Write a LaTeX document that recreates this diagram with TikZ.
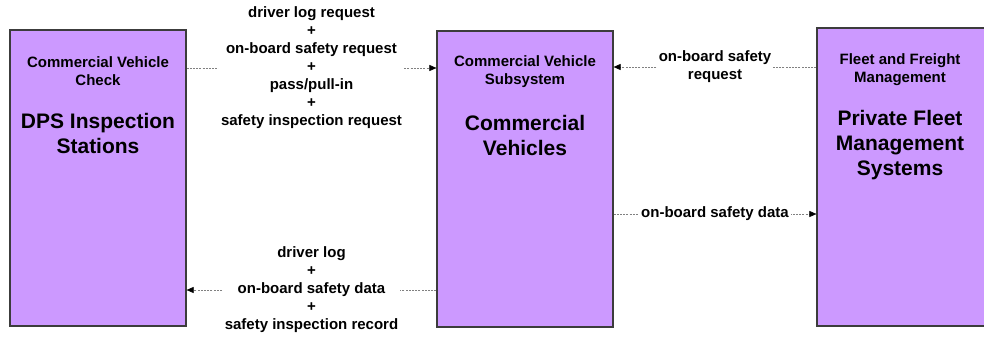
\documentclass[tikz,border=0pt]{standalone}
\usepackage{fontspec}
\setmainfont{Liberation Sans}
\usetikzlibrary{arrows.meta,calc}
\definecolor{boxfill}{RGB}{204,153,255}
\definecolor{boxline}{RGB}{60,60,60}
\tikzset{
  box/.style={draw=boxline, fill=boxfill, line width=1.2pt, inner sep=0pt},
  small/.style={font=\fontsize{15}{18}\selectfont\bfseries, align=center, inner sep=0pt},
  big/.style={font=\fontsize{21}{25}\selectfont\bfseries, align=center, inner sep=0pt},
  flow/.style={draw=gray, line width=0.6pt, dash pattern=on 2pt off 1.2pt,
    -{Triangle[length=7pt,width=6pt,color=black]}},
  lbl/.style={fill=white, inner sep=2pt, font=\fontsize{15}{18}\selectfont\bfseries, align=center},
}
\begin{document}
\begin{tikzpicture}[x=1pt,y=-1pt]
\useasboundingbox (0,0) rectangle (984,337);
% boxes
\node[box, minimum width=176pt, minimum height=296pt] (b1) at (98,178) {};
\node[box, minimum width=176pt, minimum height=296pt] (b2) at (525,179) {};
\node[box, minimum width=172pt, minimum height=298pt] (b3) at (903,177) {};
% box texts
\node[small] (t1) at (98,71) {Commercial Vehicle\\Check};
\node[big] (m1) at (98,133) {DPS Inspection\\Stations};
\node[small] (t2) at (525,72) {Commercial Vehicle\\Subsystem};
\node[big] (m2) at (525,135) {Commercial\\Vehicles};
\node[small] (t3) at (900,70) {Fleet and Freight\\Management};
\node[big] (m3) at (900,145) {Private Fleet\\Management\\Systems};
% flows
\draw[flow] (b1.east |- 0,68) -- node[lbl] (l1) {driver log request\\+\\on-board safety request\\+\\pass/pull-in\\+\\safety inspection request} (b2.west |- 0,68);
\draw[flow] (b2.west |- 0,290) -- node[lbl] (l2) {driver log\\+\\on-board safety data\\+\\safety inspection record} (b1.east |- 0,290);
\draw[flow] (b3.west |- 0,67) -- node[lbl] (l3) {on-board safety\\request} (b2.east |- 0,67);
\draw[flow] (b2.east |- 0,214) -- node[lbl] (l4) {on-board safety data} (b3.west |- 0,214);
\end{tikzpicture}
\end{document}
